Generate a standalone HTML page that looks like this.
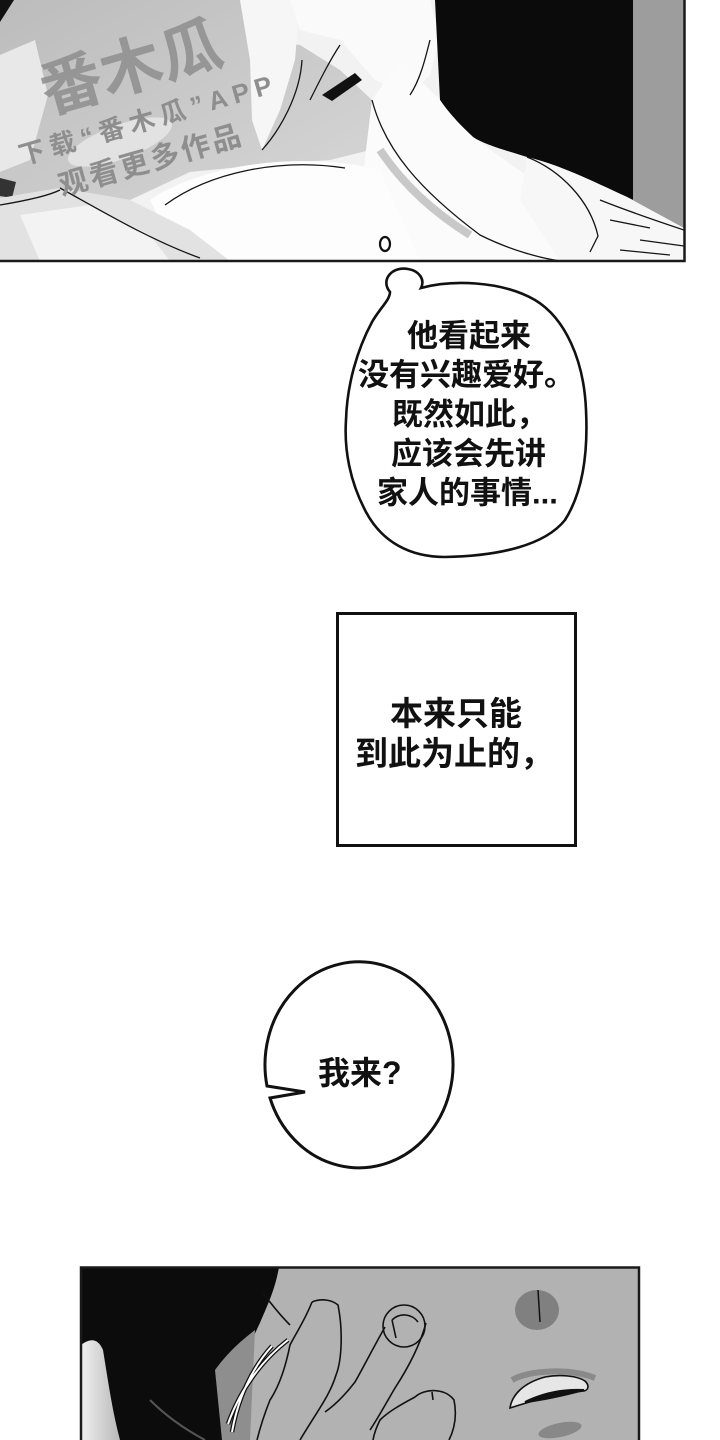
<!DOCTYPE html>
<html><head><meta charset="utf-8"><style>
html,body{margin:0;padding:0;background:#fff;}
svg{display:block;}
.t{font-family:"Liberation Sans","Noto Sans CJK SC",sans-serif;font-weight:700;fill:#111;}
.wm{font-family:"Liberation Sans","Noto Sans CJK SC",sans-serif;font-weight:700;fill:#8e8e8e;}
</style></head><body>
<svg width="720" height="1440" viewBox="0 0 720 1440" xmlns="http://www.w3.org/2000/svg">
<defs>
<clipPath id="c1"><rect x="0" y="0" width="684" height="261"/></clipPath>
<clipPath id="c2"><rect x="81" y="1267" width="558" height="173"/></clipPath>
<linearGradient id="gL" x1="0" y1="0" x2="1" y2="1"><stop offset="0" stop-color="#bcbcbc"/><stop offset="1" stop-color="#d6d6d6"/></linearGradient>
<linearGradient id="gW" x1="0" y1="0" x2="1" y2="0"><stop offset="0" stop-color="#f0f0f0"/><stop offset="1" stop-color="#b8b8b8"/></linearGradient>
</defs>
<rect width="720" height="1440" fill="#fff"/>

<!-- TOP PANEL -->
<g clip-path="url(#c1)">
<rect x="0" y="0" width="684" height="261" fill="#f2f2f2"/>
<path d="M0,0 L245,0 L262,40 L300,45 L340,70 L372,100 L370,150 L330,160 L260,165 L190,172 L130,200 L60,188 L0,198 Z" fill="url(#gL)"/>
<path d="M0,55 L35,40 L48,95 L30,160 L0,172 Z" fill="#e8e8e8"/>
<path d="M0,0 L14,0 L0,22 Z" fill="#111"/>
<path d="M0,178 L16,182 L12,198 L0,196 Z" fill="#333"/>
<ellipse cx="120" cy="142" rx="55" ry="17" fill="#e2e2e2" transform="rotate(-20 120 142)"/>
<path d="M240,0 L300,0 L295,60 L280,110 L262,150 L252,120 L250,60 Z" fill="#f6f6f6"/>
<path d="M290,0 L430,0 L440,40 L430,75 L410,95 L375,80 L340,40 L300,30 Z" fill="#fafafa"/>
<path d="M322,95 L355,73 L362,80 L332,101 Z" fill="#111"/>
<path d="M435,0 L633,0 L633,200 L627,197 C590,180 560,165 527,157 C505,150 485,145 473,137 C460,125 448,112 440,100 Z" fill="#0b0b0b"/>
<rect x="633" y="0" width="51" height="240" fill="#9d9d9d"/>
<path d="M372,100 L400,60 L440,100 C448,112 460,125 473,137 C490,150 520,170 560,200 L600,240 L590,261 L400,261 L360,200 Z" fill="#fbfbfb"/>
<path d="M527,157 C560,165 590,180 627,197 L684,228 L684,261 L560,261 L520,200 Z" fill="#f7f7f7"/>
<path d="M150,200 C200,165 300,150 380,170 L420,261 L180,261 Z" fill="#fdfdfd"/>
<path d="M0,198 L60,188 L130,200 L190,230 L230,261 L0,261 Z" fill="#e2e2e2"/>
<path d="M20,215 L90,205 L150,235 L170,261 L40,261 Z" fill="#f3f3f3"/>
<path d="M380,150 C400,180 430,210 470,235" stroke="#c8c8c8" stroke-width="8" fill="none"/>
<g stroke="#151515" stroke-width="1.3" fill="none">
<path d="M165,205 C210,172 280,158 345,168"/>
<path d="M60,188 C100,210 150,240 200,258"/>
<path d="M0,205 C30,200 50,195 60,190"/>
<path d="M372,100 C385,150 420,190 480,235 C510,250 540,258 560,261"/>
<path d="M527,157 C560,170 590,200 598,236 L590,252"/>
<path d="M600,200 C630,212 660,222 684,230"/>
<path d="M610,220 L650,228 M640,240 L684,246 M620,250 L670,255"/>
<path d="M340,45 C330,60 320,80 310,100"/>
<path d="M430,40 C425,60 420,80 410,95"/>
<path d="M262,150 C280,130 300,95 302,60"/>
</g>
<text class="wm" font-size="62" text-anchor="middle" transform="translate(137,88) rotate(-16)" opacity="0.85">番木瓜</text>
<text class="wm" font-size="26" textLength="262" lengthAdjust="spacing" transform="translate(22,165) rotate(-16)">下载“番木瓜”APP</text>
<text class="wm" font-size="29" textLength="188" lengthAdjust="spacing" transform="translate(62,196) rotate(-16)">观看更多作品</text>
</g>
<path d="M0,261 H684.5 V0" stroke="#1a1a1a" stroke-width="2.5" fill="none"/>
<ellipse cx="385" cy="244" rx="5" ry="7" fill="#fff" stroke="#111" stroke-width="2.2"/>

<!-- THOUGHT BUBBLE -->
<path d="M390,292 C380,280 392,266 408,269 C420,271 425,280 421,288 C450,280 500,280 535,300 C565,318 584,360 586,410 C588,450 584,490 565,520 C545,545 500,556 445,557 C410,557 382,542 366,512 C350,482 344,450 346,420 C347,385 357,350 372,322 C380,308 390,300 390,292 Z" fill="#fff" stroke="#111" stroke-width="2.6"/>
<text class="t" font-size="31" x="407" y="346.5">他看起来</text>
<text class="t" font-size="31" x="358" y="385.5">没有兴趣爱好。</text>
<text class="t" font-size="31" x="392" y="425">既然如此，</text>
<text class="t" font-size="31" x="391" y="464.5">应该会先讲</text>
<text class="t" font-size="31" x="377" y="503.5">家人的事情...</text>

<!-- CAPTION BOX -->
<rect x="337.5" y="613.5" width="238" height="232" fill="#fff" stroke="#111" stroke-width="3"/>
<text class="t" font-size="33" x="390" y="725">本来只能</text>
<text class="t" font-size="33" x="355" y="765">到此为止的，</text>

<!-- SPEECH BUBBLE -->
<path d="M267,1086 L305,1092 L270,1098 A94 103 0 1 0 267,1086 Z" fill="#fff" stroke="#111" stroke-width="3" stroke-linejoin="miter"/>
<text class="t" font-size="32" x="318" y="1084">我来?</text>

<!-- BOTTOM PANEL -->
<g clip-path="url(#c2)">
<rect x="81" y="1267" width="558" height="173" fill="#b2b2b2"/>
<path d="M81,1267 L279,1267 C276,1285 270,1300 262,1318 C255,1335 248,1345 245,1360 L240,1440 L81,1440 Z" fill="#0c0c0c"/>
<path d="M215,1370 C228,1352 242,1340 255,1330 L250,1440 L222,1440 Z" fill="#8e8e8e"/>
<path d="M81,1345 C90,1338 98,1338 103,1350 C108,1380 112,1410 120,1440 L81,1440 Z" fill="url(#gW)"/>
<path d="M150,1400 C170,1420 190,1432 205,1440" stroke="#555" stroke-width="2" fill="none"/>
<g stroke="#111" stroke-width="1.6" fill="none">
<path d="M263,1293 C272,1305 280,1315 290,1325"/>
<path d="M312,1302 C305,1320 295,1335 290,1345 C286,1365 280,1385 270,1400 C264,1415 260,1428 257,1440"/>
<path d="M312,1302 C322,1298 332,1300 338,1305 C343,1330 342,1360 336,1375 C330,1395 318,1410 300,1440"/>
<path d="M385,1327 C372,1350 362,1370 355,1382 C345,1395 335,1405 325,1412"/>
<path d="M426,1323 C420,1345 410,1365 395,1388 C385,1405 378,1418 370,1430"/>
<circle cx="404" cy="1326" r="21"/>
<path d="M392,1320 C400,1312 412,1314 418,1322 M392,1320 L396,1338"/>
<path d="M415,1397 C400,1405 388,1412 380,1420 C376,1428 374,1434 373,1440"/>
<path d="M415,1397 C425,1388 445,1388 454,1400 C457,1415 455,1428 449,1440"/>
<path d="M432,1392 L433,1400"/>
</g>
<path d="M288,1340 C262,1360 240,1390 228,1424 M272,1346 C252,1368 238,1398 232,1432" stroke="#111" stroke-width="4.5" fill="none"/>
<path d="M288,1340 C262,1360 240,1390 228,1424 M272,1346 C252,1368 238,1398 232,1432" stroke="#fff" stroke-width="2" fill="none"/>
<ellipse cx="537" cy="1310" rx="22" ry="20" fill="#808080"/>
<path d="M538,1290 L540,1322" stroke="#111" stroke-width="1.5"/>
<path d="M512,1380 C530,1370 570,1368 595,1378" stroke="#8a8a8a" stroke-width="6" fill="none"/>
<path d="M510,1408 C512,1395 523,1383 545,1377 C560,1374 578,1376 585,1381 C590,1386 588,1390 584,1391 C560,1393 535,1400 510,1408 Z" fill="#e6e6e6" stroke="#111" stroke-width="1.6"/>
<path d="M525,1402 C545,1392 565,1389 584,1390 C565,1395 545,1400 525,1402 Z" fill="#111" stroke="#111" stroke-width="2"/>
<ellipse cx="560" cy="1430" rx="22" ry="7" fill="#888" transform="rotate(-12 560 1430)"/>
</g>
<path d="M81,1440 V1267.5 H639 V1440" stroke="#1a1a1a" stroke-width="2.5" fill="none"/>
</svg>
</body></html>
